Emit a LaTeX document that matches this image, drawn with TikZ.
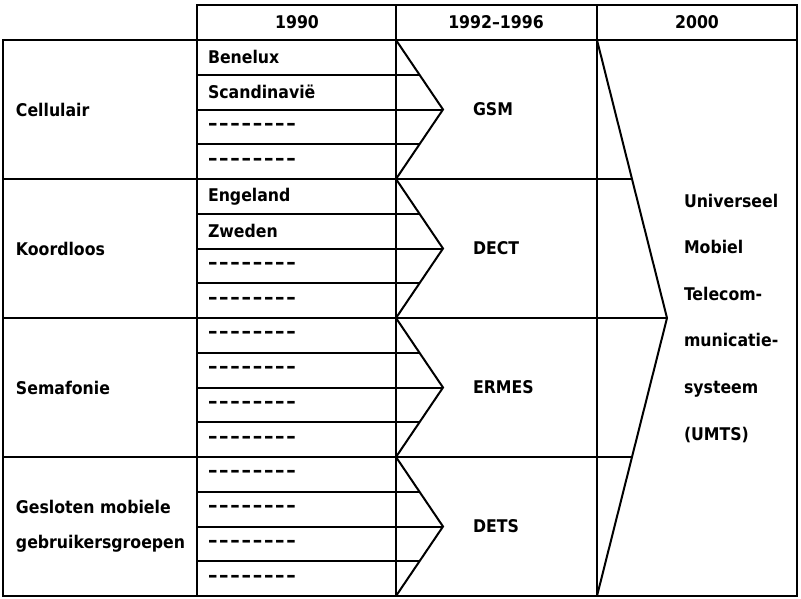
\documentclass[tikz,border=0pt]{standalone}
\usepackage{fontspec}
\setmainfont{DejaVu Sans Condensed}
\newcommand{\streepjes}{\foreach \s in {1, ..., 8}{\makebox[11.2pt][l]{\fontsize{21}{21}\selectfont\textendash}}}

\begin{document}
\begin{tikzpicture}[x=1pt, y=-1pt, line width=2pt,
  every node/.style={font=\bfseries\fontsize{17.5}{20}\selectfont, inner sep=0pt}]
  \useasboundingbox (0, 0) rectangle (801, 598);
  \draw (197, 5) rectangle (797, 40);
  \draw (3, 40) rectangle (797, 596);
  \foreach \x in {396, 597}
    \draw (\x, 5) -- (\x, 596);
  \draw (197, 5) -- (197, 596);
  \node (kop-1990) at (297, 22) {1990};
  \node (kop-1992) at (496, 22) {1992--1996};
  \node (kop-2000) at (697, 22) {2000};
  % groepen
  \foreach \y/\xe in {179/632, 318/667, 457/632}
    \draw (3, \y) -- (\xe, \y);
  \foreach \cat/\sys/\landen [count=\g from 0] in {
      Cellulair/GSM/{Benelux,Scandinavië,\streepjes,\streepjes},
      Koordloos/DECT/{Engeland,Zweden,\streepjes,\streepjes},
      Semafonie/ERMES/{\streepjes,\streepjes,\streepjes,\streepjes},
      {Gesloten mobiele\\gebruikersgroepen}/DETS/{\streepjes,\streepjes,\streepjes,\streepjes}}
  {
    \pgfmathsetmacro{\ytop}{40+139*\g}
    \pgfmathsetmacro{\ymid}{\ytop+69.5}
    \node[anchor=west, align=left, font=\bfseries\fontsize{17.5}{35}\selectfont] (cat-\g) at (15, \ymid) {\cat};
    \node[anchor=west] (sys-\g) at (472, \ymid) {\sys};
    \coordinate (pijl-\g) at (443, \ymid);
    \draw (396, \ytop) -- (pijl-\g) -- (396, \ytop+139);
    \foreach \land [count=\k from 0] in \landen
      \node[anchor=west] (land-\g-\k) at (207, \ytop+17.4+34.75*\k) {\land};
    \foreach \k/\xe in {1/419.5, 2/443, 3/419.5}
      \draw (197, \ytop+34.75*\k) -- (\xe, \ytop+34.75*\k);
  }
  % UMTS
  \coordinate (pijl-umts) at (667, 318);
  \draw (597, 40) -- (pijl-umts) -- (597, 596);
  \node[anchor=west, align=left, font=\bfseries\fontsize{17.5}{46.6}\selectfont] (umts) at (683, 318)
    {Universeel\\Mobiel\\Telecom-\\municatie-\\systeem\\(UMTS)};
\end{tikzpicture}
\end{document}
